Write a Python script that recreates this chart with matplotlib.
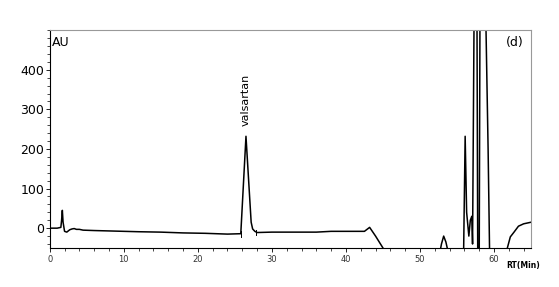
import numpy as np
from matplotlib import pyplot as plt
from matplotlib.ticker import MultipleLocator

# retention time (min) and detector response (AU)
rt = [0.0, 1.0, 1.5, 1.6, 1.7, 1.8, 2.0, 2.3, 2.7, 3.0, 3.3, 3.6, 4.0, 4.5,
      6.0, 8.0, 10.0, 12.0, 15.0, 18.0, 21.0, 24.0, 25.8,
      26.5, 27.2, 27.4, 27.7, 28.0, 30.0, 33.0, 36.0, 38.0, 40.0, 42.5,
      43.2, 44.0, 45.0, 45.5,
      52.6, 52.9, 53.2, 53.5, 53.8, 54.5,
      55.8, 55.9, 56.1, 56.3, 56.6, 56.8, 57.0, 57.1, 57.3, 57.5, 57.7, 57.8,
      58.0, 58.1, 58.3, 58.6, 58.9, 59.2, 59.4, 59.6,
      61.5, 61.8, 62.2, 62.7, 63.3, 64.0, 65.0]
au = [0, 0, 2, 20, 45, 15, -8, -10, -4, -2, -1, -3, -3, -5,
      -6, -7, -8, -9, -10, -12, -13, -15, -14,
      232, 15, -2, -8, -11, -10, -10, -10, -8, -8, -8,
      2, -20, -50, -70,
      -70, -40, -20, -35, -60, -70,
      -70, -50, 232, 40, -20, 20, 30, -40, 520, 520, 520, -70,
      -70, 520, 520, 520, 520, 200, -60, -70,
      -70, -50, -22, -10, 5, 11, 15]

plt.figure(figsize=(5.59, 2.87), dpi=100)
ax = plt.axes([0.089, 0.136, 0.861, 0.759])
ax.plot(rt, au, color="black", lw=1.1)

# integration marks around the valsartan peak
ax.plot([25.8, 25.8], [-22, -8], color="black", lw=0.7)
ax.plot([27.9, 27.9], [-18, -4], color="black", lw=0.7)

ax.text(26.4, 258, "valsartan", rotation=90, ha="center", va="bottom", fontsize=8)
ax.text(0.005, 0.975, "AU", transform=ax.transAxes, ha="left", va="top", fontsize=9)
ax.text(0.985, 0.975, "(d)", transform=ax.transAxes, ha="right", va="top", fontsize=9)

ax.set_xlim(0, 65)
ax.set_ylim(-50, 500)
ax.set_yticks([0, 100, 200, 300, 400])
ax.set_xticks([0, 10, 20, 30, 40, 50, 60])
ax.xaxis.set_minor_locator(MultipleLocator(2))
ax.yaxis.set_minor_locator(MultipleLocator(20))
ax.tick_params(axis="y", labelsize=9, length=3, width=0.6, pad=1)
ax.tick_params(axis="y", which="minor", length=2, width=0.5)
ax.tick_params(axis="x", labelsize=6, length=3, width=0.6, labelcolor="#333333", pad=2)
ax.tick_params(axis="x", which="minor", length=2, width=0.5)
for s in ["top", "right"]:
    ax.spines[s].set_color("#999999")
    ax.spines[s].set_linewidth(0.8)
for s in ["left", "bottom"]:
    ax.spines[s].set_linewidth(0.8)

plt.figtext(0.905, 0.065, "RT(Min)", fontsize=5.5, fontweight="bold", ha="left")

plt.savefig("out.png", dpi=100)
